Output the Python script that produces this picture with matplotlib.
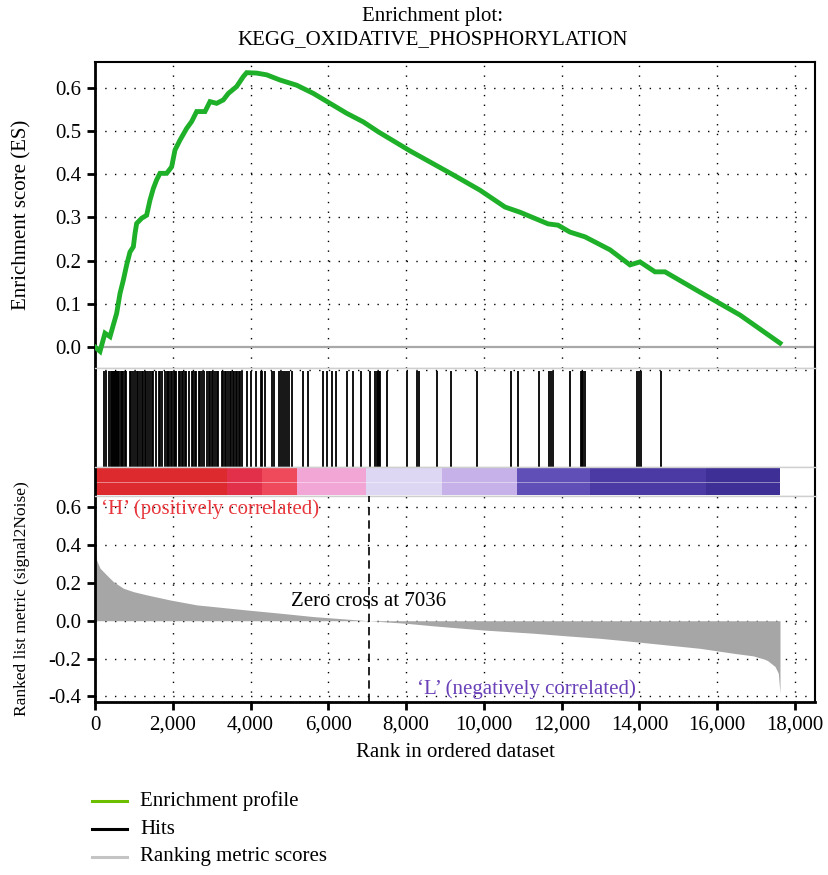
import matplotlib
matplotlib.use("Agg")
import matplotlib.pyplot as plt
from matplotlib.lines import Line2D

plt.rcParams['font.family'] = ['Liberation Serif', 'DejaVu Serif']
plt.rcParams['axes.unicode_minus'] = False

# ---------------- data ----------------
title = "Enrichment plot:\nKEGG_OXIDATIVE_PHOSPHORYLATION"
n_genes = 17614
zero_cross = 7036

es_rank = [0, 129, 257, 386, 471, 557, 643, 729, 814, 900, 986, 1029, 1071, 1200, 1328,
           1414, 1500, 1586, 1671, 1843, 1971, 2057, 2186, 2357, 2486, 2614, 2828, 2957,
           3128, 3300, 3429, 3643, 3814, 3900, 4157, 4414, 4757, 5186, 5614, 6043, 6471,
           6900, 7286, 8100, 9180, 9900, 10543, 10929, 11650, 11906, 12214, 12600, 13243,
           13757, 14014, 14400, 14657, 15557, 16586, 17614]
es_value = [0.0, -0.01, 0.032, 0.024, 0.051, 0.078, 0.124, 0.155, 0.19, 0.22, 0.232, 0.263,
            0.286, 0.298, 0.305, 0.34, 0.367, 0.387, 0.402, 0.402, 0.417, 0.456, 0.479, 0.506,
            0.522, 0.545, 0.545, 0.568, 0.564, 0.572, 0.587, 0.603, 0.626, 0.635, 0.634, 0.63,
            0.618, 0.606, 0.587, 0.564, 0.541, 0.521, 0.498, 0.454, 0.4, 0.363, 0.324, 0.312,
            0.285, 0.282, 0.266, 0.255, 0.225, 0.19, 0.197, 0.174, 0.174, 0.127, 0.074, 0.009]

hits = [240, 290, 350, 400, 425, 460, 485, 510, 540, 570, 600, 630, 660, 690, 720, 780, 810,
        890, 935, 990, 1030, 1070, 1110, 1160, 1200, 1240, 1275, 1320, 1365, 1420, 1460, 1495,
        1560, 1635, 1680, 1735, 1805, 1840, 1875, 1910, 1950, 1990, 2030, 2070, 2095, 2150,
        2190, 2230, 2270, 2310, 2350, 2420, 2490, 2530, 2570, 2610, 2665, 2700, 2740, 2800,
        2880, 2920, 2960, 3000, 3040, 3090, 3130, 3165, 3260, 3300, 3340, 3380, 3420, 3460,
        3500, 3540, 3580, 3620, 3660, 3700, 3725, 3790, 3920, 4005, 4150, 4260, 4295, 4370,
        4560, 4600, 4730, 4775, 4830, 4880, 4940, 5000, 5075, 5340, 5465, 5865, 5975, 6085,
        6190, 6490, 6645, 6830, 7075, 7210, 7240, 7270, 7300, 7320, 7520, 8030, 8270, 8320,
        8805, 9160, 9835, 10690, 10870, 11420, 11680, 11720, 11770, 12210, 12490, 12520,
        12550, 12590, 13950, 14000, 14040, 14560]

metric_rank = [0, 43, 129, 300, 471, 729, 986, 1328, 1928, 2614, 3900, 4757, 5614, 7036,
               7971, 8700, 9986, 11271, 12129, 12986, 13843, 14700, 15557, 16414, 16929,
               17271, 17486, 17571, 17614]
metric_value = [0.375, 0.32, 0.278, 0.242, 0.207, 0.172, 0.154, 0.137, 0.11, 0.084, 0.057,
                0.04, 0.022, 0.0, -0.013, -0.027, -0.049, -0.066, -0.08, -0.093, -0.11,
                -0.128, -0.146, -0.172, -0.186, -0.207, -0.242, -0.278, -0.384]

band_edges = [0, 3400, 4300, 5200, 6970, 8920, 10850, 12730, 15700, 17614]
band_colors = ['#dc2a2e', '#e2304a', '#ef4a5c', '#f2a6d6', '#ddd7f4', '#c6b2e8',
               '#5f4fb6', '#4b3aa4', '#3d2f96']

x_ticks = [0, 2000, 4000, 6000, 8000, 10000, 12000, 14000, 16000, 18000]
es_ticks = [0.0, 0.1, 0.2, 0.3, 0.4, 0.5, 0.6]
metric_ticks = [-0.4, -0.2, 0.0, 0.2, 0.4, 0.6]

# ---------------- layout ----------------
W, H = 829, 875
fig = plt.figure(figsize=(W / 100, H / 100), dpi=100)
FS = 15

def rect(top, bottom, left=95, right=815):
    return [left / W, 1 - bottom / H, (right - left) / W, (bottom - top) / H]

ax1 = fig.add_axes(rect(62, 368))
ax2 = fig.add_axes(rect(368, 467))
ax3 = fig.add_axes(rect(467, 496))
ax4 = fig.add_axes(rect(496, 702))

xmax = 18000 * 720 / 700
for ax in (ax1, ax2, ax3, ax4):
    ax.set_xlim(0, xmax)
    for s in ax.spines.values():
        s.set_color('#cfcfcf')
        s.set_linewidth(1.0)
    ax.spines['left'].set_color('black')
    ax.spines['left'].set_linewidth(2.0)
    ax.spines['right'].set_color('black')
    ax.spines['right'].set_linewidth(1.5)
    ax.tick_params(axis='x', bottom=False, labelbottom=False)
    ax.tick_params(axis='y', left=False, labelleft=False)

grid_kw = dict(color='black', linestyle=(0, (1, 6)), linewidth=1.0, zorder=0)

# ES panel
ax1.spines['top'].set_color('black')
ax1.spines['top'].set_linewidth(1.5)
ax1.set_ylim(-0.0486, 0.6597)
for xt in x_ticks:
    ax1.axvline(xt, **grid_kw)
for yt in es_ticks[1:]:
    ax1.axhline(yt, **grid_kw)
ax1.axhline(0, color='#a8a8a8', lw=1.6, zorder=1)
ax1.plot(es_rank, es_value, color='#1fb02a', lw=3.5, solid_joinstyle='miter', zorder=3)
ax1.set_yticks(es_ticks)
ax1.set_yticklabels([f"{v:.1f}" for v in es_ticks])
ax1.tick_params(axis='y', left=True, labelleft=True, length=6, width=2, labelsize=FS,
                direction='out', pad=4)
ax1.set_ylabel("Enrichment score (ES)", fontsize=FS)

# Hits panel
ax2.set_ylim(0, 1)
ax2.axhline(0.975, **grid_kw)
ax2.vlines(hits, 0, 0.97, color='black', lw=1.3, zorder=2)

# Colour band
ax3.set_ylim(0, 1)
for i, c in enumerate(band_colors):
    ax3.axvspan(band_edges[i], band_edges[i + 1], ymin=0.04, ymax=0.96, color=c, lw=0)
ax3.axhline(0.5, color='white', lw=0.6, alpha=0.5)

# Metric panel
ax4.spines['bottom'].set_color('black')
ax4.spines['bottom'].set_linewidth(2.0)
ax4.set_ylim(-0.43, 0.66)
for xt in x_ticks:
    ax4.axvline(xt, **grid_kw)
for yt in metric_ticks:
    ax4.axhline(yt, **grid_kw)
ax4.fill_between(metric_rank, 0, metric_value, color='#a6a6a6', lw=0, zorder=2)
ax4.axvline(zero_cross, color='black', lw=1.2, linestyle=(0, (5, 3)), zorder=3)
ax4.text(zero_cross, 0.104, f"Zero cross at {zero_cross}", ha='center', va='center',
         fontsize=FS, zorder=4)
ax4.text(150, 0.59, "\u2018H\u2019 (positively correlated)", color='#e8363c', fontsize=FS,
         ha='left', va='center')
ax4.text(13900, -0.36, "\u2018L\u2019 (negatively correlated)", color='#6a40b8', fontsize=FS,
         ha='right', va='center')
ax4.set_yticks(metric_ticks)
ax4.set_yticklabels([f"{v:.1f}" for v in metric_ticks])
ax4.tick_params(axis='y', left=True, labelleft=True, length=6, width=2, labelsize=FS,
                direction='out', pad=4)
ax4.set_xticks(x_ticks)
ax4.set_xticklabels([f"{v:,}" for v in x_ticks])
ax4.tick_params(axis='x', bottom=True, labelbottom=True, length=6, width=2, labelsize=FS,
                direction='out', pad=4)
ax4.set_ylabel("Ranked list metric (signal2Noise)", fontsize=12.5)
ax4.set_xlabel("Rank in ordered dataset", fontsize=FS, labelpad=6)

# align y labels
ax1.yaxis.set_label_coords(-0.088, 0.5)
ax4.yaxis.set_label_coords(-0.090, 0.5)

fig.text(433 / W, 1 - 28 / H, title, ha='center', va='center', fontsize=FS,
         linespacing=1.35)

# legend
legend_items = [("Enrichment profile", '#6cbf00'), ("Hits", 'black'),
                ("Ranking metric scores", '#c4c4c4')]
for i, (lab, col) in enumerate(legend_items):
    yy = 1 - (801 + 28 * i) / H
    fig.add_artist(Line2D([92 / W, 127 / W], [yy, yy], color=col, lw=2.2))
    fig.text(140 / W, yy, lab, ha='left', va='center', fontsize=FS)

fig.savefig("out.png", dpi=100)
